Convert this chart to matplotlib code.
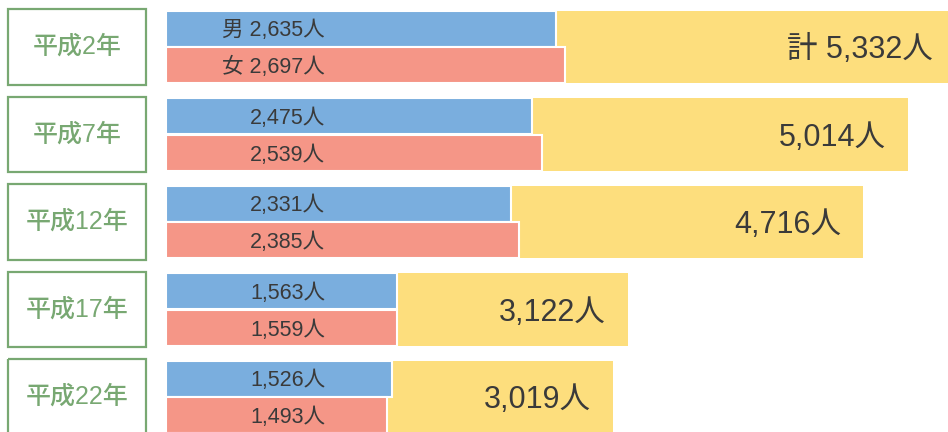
import matplotlib
matplotlib.use("Agg")
import matplotlib.pyplot as plt
from matplotlib.patches import Rectangle

plt.rcParams['font.family'] = ['Liberation Sans', 'Noto Sans CJK JP', 'DejaVu Sans']

# data
years = ['平成2年', '平成7年', '平成12年', '平成17年', '平成22年']
male = [2635, 2475, 2331, 1563, 1526]
female = [2697, 2539, 2385, 1559, 1493]
total = [5332, 5014, 4716, 3122, 3019]

blue = '#7aaede'
red = '#f59687'
yellow = '#fdde7d'
green = '#78a872'
txt = '#3a3a3a'

fig = plt.figure(figsize=(9.48, 4.32), dpi=100)

# layout in pixels
x0 = 166.0          # where the bars start
ppu = 0.1479        # pixels per person
pitch = 87.5        # pixels between groups
top = 47.0          # centre of first group
ylim = (432 - top) / pitch, -top / pitch

# bars
ax = fig.add_axes([x0 / 948, 0, 1 - x0 / 948, 1])
ax.set_xlim(0, (948 - x0) / ppu)
ax.set_ylim(*ylim)
ax.axis('off')

ys = list(range(len(years)))
ax.barh(ys, total, height=0.825, color=yellow, linewidth=0)
ax.barh([y - 0.21 for y in ys], male, height=0.41, color=blue,
        edgecolor='white', linewidth=1.5)
ax.barh([y + 0.21 for y in ys], female, height=0.41, color=red,
        edgecolor='white', linewidth=1.5)

lab_x = (325 - x0) / ppu
for i in ys:
    m = f'{male[i]:,}人'
    f = f'{female[i]:,}人'
    t = f'{total[i]:,}人'
    if i == 0:
        m = '男 ' + m
        f = '女 ' + f
        t = '計 ' + t
    ax.text(lab_x, i - 0.185, m, ha='right', va='center', fontsize=15.5, color=txt)
    ax.text(lab_x, i + 0.235, f, ha='right', va='center', fontsize=15.5, color=txt)
    ax.text(total[i] - 22 / ppu, i + 0.035, t, ha='right', va='center', fontsize=22, color=txt)

# year boxes
axl = fig.add_axes([0, 0, x0 / 948, 1])
axl.set_xlim(0, x0)
axl.set_ylim(*ylim)
axl.axis('off')
for i, yr in enumerate(years):
    axl.add_patch(Rectangle((8, i - 0.434), 138, 0.868, fill=False,
                            edgecolor=green, linewidth=1.6, clip_on=False))
    axl.text(77, i, yr, ha='center', va='center', fontsize=18, color=green,
             fontweight='medium')

fig.savefig('out.png', dpi=100)
